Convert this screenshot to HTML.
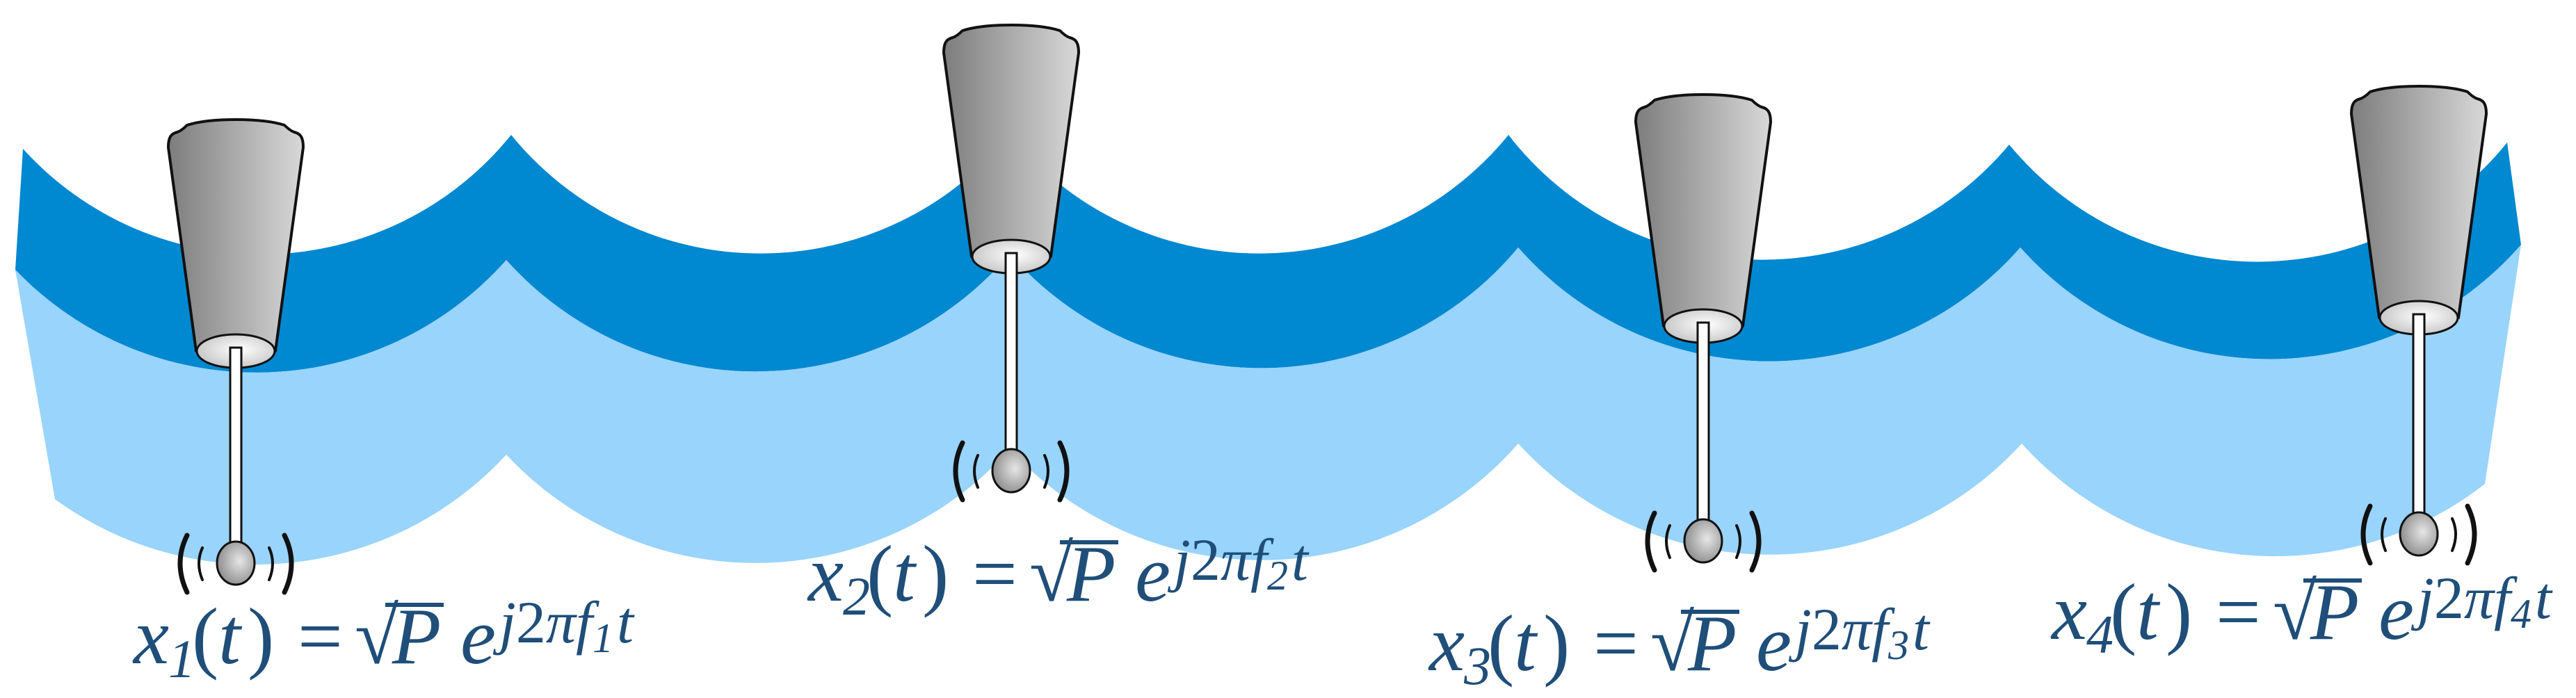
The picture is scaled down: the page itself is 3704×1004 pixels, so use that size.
<!DOCTYPE html>
<html><head><meta charset="utf-8"><style>
html,body{margin:0;padding:0;background:#fff;width:3704px;height:1004px;overflow:hidden}
svg{display:block}
text{font-family:"Liberation Serif",serif;font-style:italic;fill:#1F4E79}
</style></head><body>
<svg width="3704" height="1004" viewBox="0 0 3704 1004" xmlns="http://www.w3.org/2000/svg">
<defs>
<linearGradient id="cap" x1="0" x2="1" y1="0" y2="0">
<stop offset="0" stop-color="#7d7d7d"/><stop offset="1" stop-color="#d8d8d8"/></linearGradient>
<radialGradient id="rim" cx="0.55" cy="0.45" r="0.6">
<stop offset="0" stop-color="#ffffff"/><stop offset="1" stop-color="#c4c4c4"/></radialGradient>
<radialGradient id="ball" cx="0.6" cy="0.45" r="0.6">
<stop offset="0" stop-color="#e6e6e6"/><stop offset="1" stop-color="#8e8e8e"/></radialGradient>
<g id="ant">
<path d="M-97,40 C-97,24 -92,20 -84,18 Q-78,16 -70,8 Q-45,0 0,0 Q45,0 70,8 Q78,16 84,18 C92,20 97,24 97,40 L57,333 L-57,333 Z" fill="url(#cap)" stroke="#111" stroke-width="4" stroke-linejoin="round"/>
<ellipse cx="0" cy="333" rx="56" ry="24" fill="url(#rim)" stroke="#111" stroke-width="3"/>
</g>
<g id="lbl">
<text font-size="115">
<tspan x="0" y="0">x</tspan><tspan x="84" y="0" font-style="normal">(</tspan><tspan x="122" y="0">t</tspan><tspan x="164" y="0" font-style="normal">)</tspan><tspan x="236" y="0" font-style="normal">=</tspan><tspan x="318" y="0" font-style="normal">√</tspan><tspan x="372" y="0">P</tspan><tspan x="470" y="0">e</tspan>
</text>
</g>
</defs>
<!-- dark band -->
<path d="M33,214 A462 462 0 0 0 735,194 A462 462 0 0 0 1452,194 A462 462 0 0 0 2169,194 A462 462 0 0 0 2889,208 A462 462 0 0 0 3605,205 L3625,352 A480 480 0 0 1 2905,356 A480 480 0 0 1 2183,356 A480 480 0 0 1 1452,365 A480 480 0 0 1 728,374 A480 480 0 0 1 22,388 Z" fill="#0088D1"/>
<!-- light band -->
<path d="M22,388 A480 480 0 0 0 728,374 A480 480 0 0 0 1452,365 A480 480 0 0 0 2183,356 A480 480 0 0 0 2905,356 A480 480 0 0 0 3625,352 L3573,696 A490 490 0 0 1 2907,638 A490 490 0 0 1 2183,638 A490 490 0 0 1 1452,646 A490 490 0 0 1 728,654 A490 490 0 0 1 79,718 Z" fill="#99D4FC"/>

<!-- antennas -->
<g transform="translate(339,172)"><use href="#ant"/></g>
<rect x="331" y="500" width="16" height="285" fill="#fff" stroke="#111" stroke-width="3"/>
<ellipse cx="339" cy="810" rx="27" ry="31" fill="url(#ball)" stroke="#111" stroke-width="3"/>

<g transform="translate(1454,36)"><use href="#ant"/></g>
<rect x="1446" y="364" width="16" height="288" fill="#fff" stroke="#111" stroke-width="3"/>
<ellipse cx="1454" cy="677" rx="27" ry="31" fill="url(#ball)" stroke="#111" stroke-width="3"/>

<g transform="translate(2449,136)"><use href="#ant"/></g>
<rect x="2441" y="464" width="16" height="290" fill="#fff" stroke="#111" stroke-width="3"/>
<ellipse cx="2449" cy="778" rx="27" ry="31" fill="url(#ball)" stroke="#111" stroke-width="3"/>

<g transform="translate(3478,124)"><use href="#ant"/></g>
<rect x="3470" y="452" width="16" height="292" fill="#fff" stroke="#111" stroke-width="3"/>
<ellipse cx="3478" cy="768" rx="27" ry="31" fill="url(#ball)" stroke="#111" stroke-width="3"/>

<!-- wave parens -->
<g fill="none" stroke="#111" stroke-linecap="round">
<g id="pa" transform="translate(339,810)">
<path d="M-70,-40 Q-90,0 -70,42" stroke-width="7"/><path d="M-48,-22 Q-58,0 -48,24" stroke-width="4"/>
<path d="M70,-40 Q90,0 70,42" stroke-width="7"/><path d="M48,-22 Q58,0 48,24" stroke-width="4"/>
</g>
<use href="#pa" transform="translate(1115,-133)"/>
<use href="#pa" transform="translate(2110,-32)"/>
<use href="#pa" transform="translate(3139,-42)"/>
</g>

<!-- labels -->
<g transform="translate(192,954)"><use href="#lbl"/>
<text font-size="78" font-style="normal" x="50" y="20">1</text>
<text font-size="86" x="526" y="-30">j<tspan font-style="normal">2</tspan>πf</text><text font-size="60" font-style="normal" x="660" y="-16">1</text><text font-size="86" x="695" y="-30">t</text>
<line x1="362" y1="-84" x2="446" y2="-84" stroke="#1F4E79" stroke-width="6"/></g>

<g transform="translate(1162,864)"><use href="#lbl"/>
<text font-size="78" font-style="normal" x="50" y="20">2</text>
<text font-size="86" x="526" y="-30">j<tspan font-style="normal">2</tspan>πf</text><text font-size="60" font-style="normal" x="660" y="-16">2</text><text font-size="86" x="695" y="-30">t</text>
<line x1="362" y1="-84" x2="446" y2="-84" stroke="#1F4E79" stroke-width="6"/></g>

<g transform="translate(2055,964)"><use href="#lbl"/>
<text font-size="78" font-style="normal" x="50" y="20">3</text>
<text font-size="86" x="526" y="-30">j<tspan font-style="normal">2</tspan>πf</text><text font-size="60" font-style="normal" x="660" y="-16">3</text><text font-size="86" x="695" y="-30">t</text>
<line x1="362" y1="-84" x2="446" y2="-84" stroke="#1F4E79" stroke-width="6"/></g>

<g transform="translate(2950,919)"><use href="#lbl"/>
<text font-size="78" font-style="normal" x="50" y="20">4</text>
<text font-size="86" x="526" y="-30">j<tspan font-style="normal">2</tspan>πf</text><text font-size="60" font-style="normal" x="660" y="-16">4</text><text font-size="86" x="695" y="-30">t</text>
<line x1="362" y1="-84" x2="446" y2="-84" stroke="#1F4E79" stroke-width="6"/></g>
</svg>
</body></html>
